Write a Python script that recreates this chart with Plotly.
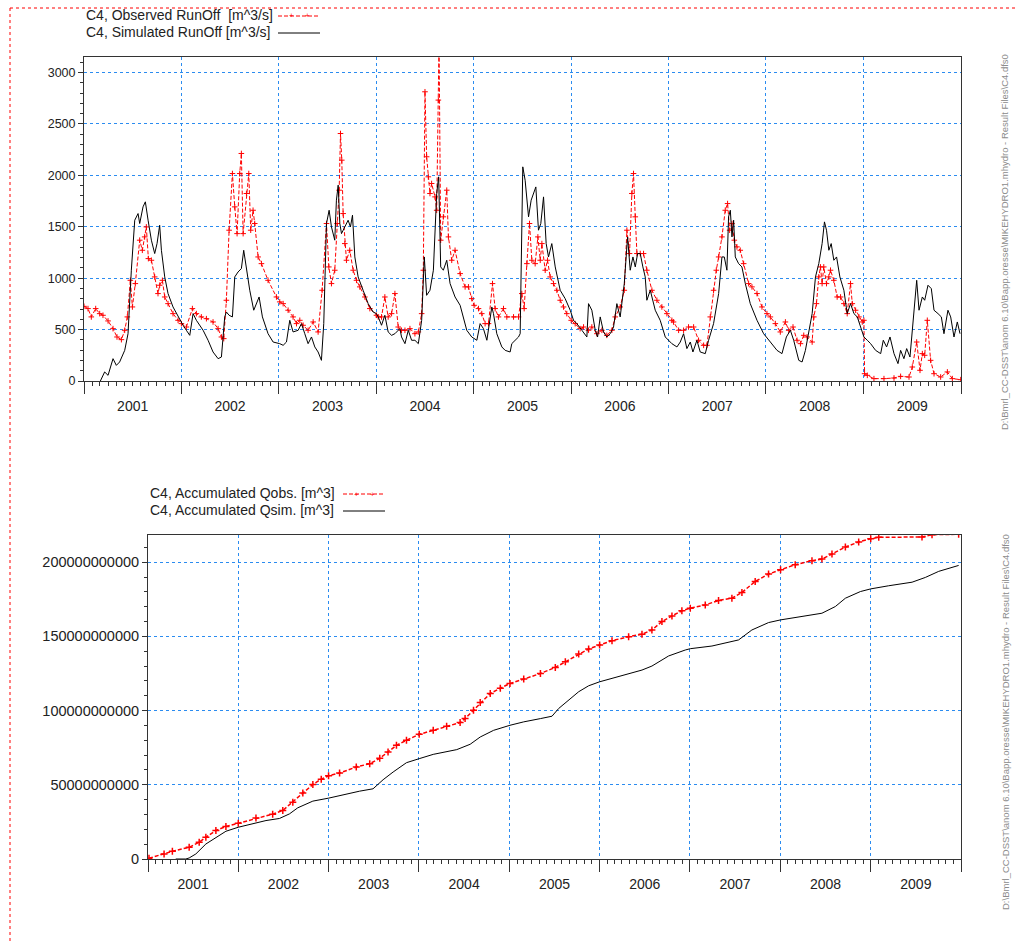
import datetime as dt
import plotly.graph_objects as go

# ---------------- data ----------------
# Observed runoff [m^3/s], decimal-year time stamps
obs_time = [
    2001.000, 2001.041, 2001.075, 2001.120, 2001.161, 2001.195, 2001.247, 2001.298, 2001.339, 2001.384,
    2001.418, 2001.445, 2001.476, 2001.497, 2001.527, 2001.572, 2001.599, 2001.623, 2001.640, 2001.661,
    2001.692, 2001.726, 2001.760, 2001.777, 2001.805, 2001.829, 2001.863, 2001.914, 2001.966,
    2002.000, 2002.051, 2002.113, 2002.154, 2002.205, 2002.257, 2002.325, 2002.377, 2002.411, 2002.435,
    2002.462, 2002.490, 2002.524, 2002.548, 2002.572, 2002.599, 2002.616, 2002.634, 2002.668, 2002.692,
    2002.712, 2002.736, 2002.753, 2002.788, 2002.822, 2002.890, 2002.976,
    2003.010, 2003.045, 2003.096, 2003.147, 2003.182, 2003.216, 2003.250, 2003.301, 2003.353, 2003.404,
    2003.445, 2003.490, 2003.514, 2003.541, 2003.575, 2003.599, 2003.620, 2003.634, 2003.647, 2003.661,
    2003.678, 2003.695, 2003.729, 2003.764, 2003.798, 2003.832, 2003.884, 2003.935,
    2004.003, 2004.021, 2004.055, 2004.089, 2004.123, 2004.158, 2004.192, 2004.226, 2004.260, 2004.295,
    2004.346, 2004.397, 2004.432, 2004.466, 2004.483, 2004.500, 2004.517, 2004.534, 2004.551, 2004.568,
    2004.603, 2004.620, 2004.637, 2004.644, 2004.661, 2004.688, 2004.723, 2004.740, 2004.774, 2004.808,
    2004.860, 2004.911, 2004.945, 2004.979,
    2005.003, 2005.048, 2005.082, 2005.116, 2005.151, 2005.192, 2005.219, 2005.253, 2005.305, 2005.339,
    2005.408, 2005.459, 2005.493, 2005.517, 2005.545, 2005.572, 2005.596, 2005.630, 2005.658, 2005.682,
    2005.699, 2005.733, 2005.757, 2005.784, 2005.818, 2005.853, 2005.887, 2005.921, 2005.955,
    2006.000, 2006.041, 2006.092, 2006.127, 2006.178, 2006.212, 2006.264, 2006.315, 2006.366, 2006.418,
    2006.452, 2006.503, 2006.545, 2006.572, 2006.599, 2006.623, 2006.640, 2006.658, 2006.675, 2006.709,
    2006.743, 2006.777, 2006.829, 2006.880, 2006.931, 2006.983,
    2007.034, 2007.051, 2007.103, 2007.154, 2007.205, 2007.257, 2007.308, 2007.360, 2007.394, 2007.428,
    2007.462, 2007.490, 2007.514, 2007.548, 2007.582, 2007.606, 2007.627, 2007.651, 2007.675, 2007.702,
    2007.736, 2007.771, 2007.822, 2007.856, 2007.908, 2007.959,
    2008.010, 2008.045, 2008.096, 2008.147, 2008.199, 2008.233, 2008.277, 2008.318, 2008.353, 2008.387,
    2008.421, 2008.473, 2008.490, 2008.517, 2008.541, 2008.558, 2008.575, 2008.592, 2008.620, 2008.644,
    2008.661, 2008.695, 2008.729, 2008.764, 2008.798, 2008.832, 2008.866, 2008.884, 2008.918, 2008.952,
    2008.986,
    2009.003, 2009.010, 2009.038, 2009.106, 2009.209, 2009.312, 2009.380, 2009.466, 2009.500, 2009.545,
    2009.579, 2009.603, 2009.627, 2009.654, 2009.688, 2009.723, 2009.791, 2009.860, 2009.911, 2009.997,
]
obs_flow = [
    726, 704, 623, 704, 655, 639, 584, 509, 428, 402,
    493, 623, 979, 720, 947, 1369, 1271, 1401, 1498, 1190,
    1174, 1012, 850, 931, 979, 817, 752, 655, 590,
    558, 525, 704, 655, 623, 606, 574, 509, 428, 412,
    785, 1466, 2017, 1693, 1433, 2017, 2212, 1433, 1823, 2017,
    1466, 1660, 1531, 1206, 1141, 979, 817,
    769, 752, 688, 623, 558, 590, 542, 493, 574, 477,
    882, 1531, 1109, 947, 1077, 1531, 1855, 2406, 2147, 1628,
    1336, 1174, 1271, 1077, 979, 915, 817, 704,
    639, 623, 623, 817, 623, 655, 850, 525, 493, 493,
    509, 460, 477, 655, 1077, 2812, 2180, 1985, 1823, 1920,
    1790, 1660, 2731, 3300, 1369, 1596, 1855, 1401, 1174, 1271,
    1044, 915, 915, 801,
    736, 704, 655, 558, 558, 947, 704, 623, 704, 623,
    623, 623, 850, 704, 1141, 1531, 1174, 1141, 1401, 1174,
    1336, 1077, 1174, 1012, 947, 882, 785, 720, 655,
    590, 558, 509, 525, 493, 525, 460, 493, 444, 493,
    623, 720, 882, 1466, 1239, 1823, 2017, 1596, 1239, 1239,
    1239, 1077, 882, 785, 720, 655,
    590, 574, 493, 493, 525, 525, 396, 347, 347, 623,
    882, 1077, 1206, 1401, 1660, 1725, 1466, 1531, 1369, 1304,
    1271, 1141, 947, 915, 850, 720,
    655, 623, 558, 477, 574, 493, 525, 396, 363, 444,
    428, 379, 623, 752, 1012, 1109, 947, 1109, 947, 1012,
    1077, 979, 817, 817, 752, 655, 947, 752, 688, 623,
    574,
    590, 71, 55, 23, 23, 29, 45, 39, 136, 379,
    104, 266, 250, 590, 201, 71, 39, 88, 23, 13,
]

# Simulated runoff [m^3/s]
sim_time = [
    2001.168, 2001.212, 2001.247, 2001.298, 2001.332, 2001.366, 2001.418, 2001.452, 2001.486, 2001.521,
    2001.555, 2001.572, 2001.606, 2001.630, 2001.658, 2001.692, 2001.726, 2001.750, 2001.777, 2001.795,
    2001.829, 2001.863, 2001.914, 2001.966,
    2002.017, 2002.051, 2002.086, 2002.120, 2002.154, 2002.223, 2002.274, 2002.325, 2002.377, 2002.411,
    2002.445, 2002.462, 2002.490, 2002.524, 2002.548, 2002.582, 2002.616, 2002.640, 2002.668, 2002.702,
    2002.743, 2002.771, 2002.798, 2002.832, 2002.890, 2002.942,
    2003.010, 2003.045, 2003.079, 2003.113, 2003.147, 2003.199, 2003.233, 2003.267, 2003.301, 2003.336,
    2003.370, 2003.404, 2003.438, 2003.462, 2003.490, 2003.517, 2003.541, 2003.575, 2003.592, 2003.610,
    2003.627, 2003.644, 2003.678, 2003.712, 2003.736, 2003.757, 2003.781, 2003.815, 2003.866, 2003.918,
    2003.969,
    2004.003, 2004.021, 2004.055, 2004.089, 2004.123, 2004.158, 2004.192, 2004.243, 2004.260, 2004.295,
    2004.329, 2004.363, 2004.397, 2004.432, 2004.466, 2004.493, 2004.517, 2004.551, 2004.586, 2004.620,
    2004.640, 2004.661, 2004.688, 2004.723, 2004.757, 2004.808, 2004.860, 2004.928, 2004.979,
    2005.031, 2005.065, 2005.099, 2005.134, 2005.185, 2005.202, 2005.236, 2005.288, 2005.322, 2005.373,
    2005.390, 2005.425, 2005.459, 2005.476, 2005.493, 2005.503, 2005.527, 2005.562, 2005.589, 2005.613,
    2005.637, 2005.664, 2005.688, 2005.716, 2005.743, 2005.767, 2005.801, 2005.836, 2005.887, 2005.938,
    2005.990,
    2006.024, 2006.058, 2006.110, 2006.161, 2006.178, 2006.212, 2006.247, 2006.271, 2006.298, 2006.332,
    2006.366, 2006.401, 2006.435, 2006.469, 2006.503, 2006.545, 2006.579, 2006.606, 2006.634, 2006.658,
    2006.682, 2006.709, 2006.736, 2006.760, 2006.777, 2006.812, 2006.863, 2006.914, 2006.966,
    2007.034, 2007.086, 2007.120, 2007.154, 2007.188, 2007.223, 2007.250, 2007.291, 2007.325, 2007.377,
    2007.411, 2007.462, 2007.514, 2007.548, 2007.572, 2007.599, 2007.616, 2007.634, 2007.651, 2007.668,
    2007.685, 2007.719, 2007.753, 2007.788, 2007.839, 2007.908, 2007.976,
    2008.045, 2008.113, 2008.164, 2008.209, 2008.250, 2008.284, 2008.336, 2008.370, 2008.404, 2008.438,
    2008.473, 2008.507, 2008.541, 2008.575, 2008.599, 2008.620, 2008.644, 2008.668, 2008.695, 2008.723,
    2008.757, 2008.798, 2008.832, 2008.866, 2008.901, 2008.935, 2008.976,
    2009.003, 2009.038, 2009.072, 2009.123, 2009.175, 2009.202, 2009.236, 2009.271, 2009.312, 2009.353,
    2009.380, 2009.414, 2009.442, 2009.476, 2009.517, 2009.545, 2009.569, 2009.603, 2009.627, 2009.661,
    2009.695, 2009.723, 2009.764, 2009.798, 2009.825, 2009.866, 2009.894, 2009.928, 2009.962, 2009.990,
]
sim_flow = [
    0, 88, 55, 217, 152, 185, 298, 460, 1077, 1563,
    1628, 1531, 1693, 1742, 1563, 1369, 1239, 1336, 1514, 1271,
    1012, 850, 720, 623,
    542, 493, 444, 655, 590, 493, 396, 282, 217, 233,
    623, 671, 639, 623, 1012, 1060, 1093, 1271, 1077, 882,
    688, 752, 817, 623, 460, 379,
    363, 347, 379, 590, 477, 493, 558, 460, 363, 428,
    331, 282, 201, 558, 1531, 1660, 1498, 1369, 1758, 1904,
    1531, 1433, 1498, 1563, 1498, 1612, 1206, 1012, 882, 752,
    671,
    655, 623, 542, 639, 477, 444, 460, 509, 428, 363,
    493, 396, 396, 363, 590, 1206, 833, 882, 1077, 1823,
    1985, 1109, 1077, 1174, 947, 817, 736, 493, 428,
    396, 558, 509, 396, 720, 655, 460, 331, 298, 282,
    363, 396, 428, 460, 1660, 2082, 1952, 1596, 1758, 1823,
    1887, 1466, 1531, 1790, 1336, 1206, 1336, 1109, 882, 801,
    688,
    590, 558, 493, 428, 752, 688, 493, 428, 623, 477,
    428, 460, 525, 752, 623, 947, 1401, 1077, 1206, 1109,
    1239, 1239, 1109, 1012, 785, 882, 688, 590, 428,
    363, 331, 379, 460, 315, 379, 282, 396, 282, 266,
    396, 558, 850, 1206, 1206, 1077, 1596, 1660, 1401, 1563,
    1206, 1141, 1109, 947, 752, 590, 460,
    379, 298, 266, 428, 493, 396, 201, 185, 298, 460,
    655, 1012, 1141, 1336, 1547, 1466, 1271, 1336, 1174, 1206,
    1012, 882, 655, 752, 655, 623, 493,
    428, 396, 363, 298, 266, 396, 331, 428, 266, 169,
    298, 217, 315, 233, 655, 979, 688, 817, 785, 931,
    898, 688, 655, 623, 460, 688, 623, 428, 574, 460,
]

# Accumulated volumes [10^9 m^3]
acc_obs_time = [
    2001.011, 2001.178, 2001.270, 2001.456, 2001.567, 2001.641, 2001.752, 2001.863,
    2002.000, 2002.196, 2002.381, 2002.493, 2002.604, 2002.715, 2002.826, 2002.919,
    2003.000, 2003.122, 2003.307, 2003.456, 2003.567, 2003.659, 2003.752, 2003.863,
    2004.004, 2004.159, 2004.307, 2004.456, 2004.511, 2004.604, 2004.678, 2004.789, 2004.900,
    2005.007, 2005.159, 2005.344, 2005.509, 2005.620, 2005.768, 2005.878,
    2006.000, 2006.137, 2006.321, 2006.469, 2006.579, 2006.690, 2006.801, 2006.911,
    2007.004, 2007.170, 2007.317, 2007.465, 2007.576, 2007.723, 2007.871,
    2008.004, 2008.166, 2008.351, 2008.461, 2008.572, 2008.720, 2008.867,
    2009.000, 2009.089, 2009.568, 2009.679, 2009.974,
]
acc_obs_vol = [
    0.5, 3.4, 5.2, 7.9, 11.3, 14.6, 19.2, 21.9,
    24.1, 27.7, 30.2, 32.7, 38.3, 44.4, 50.2, 53.8,
    56.1, 57.9, 62.0, 64.2, 67.8, 72.1, 76.6, 80.0,
    84.0, 86.7, 89.4, 91.9, 94.6, 100.3, 105.4, 111.5, 115.1,
    118.3, 121.2, 125.0, 129.1, 132.9, 138.1, 141.5,
    144.2, 147.1, 149.8, 151.4, 154.3, 160.0, 163.8, 167.2,
    169.0, 171.2, 174.2, 175.7, 179.6, 187.0, 192.0,
    194.9, 198.3, 201.0, 202.1, 205.5, 210.2, 213.6,
    215.8, 216.7, 217.0, 218.5, 218.8,
]
acc_sim_time = [
    2001.307, 2001.419, 2001.456, 2001.530, 2001.641, 2001.752, 2001.863,
    2002.000, 2002.196, 2002.307, 2002.456, 2002.567, 2002.659, 2002.826,
    2003.000, 2003.196, 2003.344, 2003.493, 2003.604, 2003.715, 2003.863,
    2004.004, 2004.159, 2004.419, 2004.567, 2004.678, 2004.826,
    2005.007, 2005.159, 2005.344, 2005.472, 2005.546, 2005.657, 2005.768, 2005.878,
    2006.000, 2006.137, 2006.321, 2006.469, 2006.579, 2006.764, 2006.948,
    2007.004, 2007.244, 2007.428, 2007.539, 2007.686, 2007.871,
    2008.004, 2008.203, 2008.461, 2008.609, 2008.720, 2008.886,
    2009.000, 2009.199, 2009.458, 2009.605, 2009.753, 2009.974,
]
acc_sim_vol = [
    0.0, 0.0, 0.7, 3.4, 10.1, 14.6, 18.7,
    21.4, 24.3, 25.9, 27.3, 30.4, 34.5, 39.0,
    41.0, 43.9, 45.7, 47.3, 53.4, 58.6, 64.9,
    67.6, 70.5, 73.7, 77.3, 82.2, 86.7,
    90.1, 92.4, 94.6, 96.2, 101.4, 107.0, 112.7, 116.7,
    119.4, 121.7, 125.0, 127.3, 130.0, 136.8, 140.8,
    141.7, 143.5, 145.8, 147.6, 154.3, 159.3,
    161.1, 162.9, 165.6, 170.1, 175.7, 180.2,
    182.0, 184.1, 186.5, 189.7, 193.8, 197.8,
]

flow_ticks = [0, 500, 1000, 1500, 2000, 2500, 3000]
vol_ticks = [0, 50e9, 100e9, 150e9, 200e9]

label_obs = "C4, Observed RunOff  [m^3/s]"
label_sim = "C4, Simulated RunOff [m^3/s]"
label_acc_obs = "C4, Accumulated Qobs. [m^3]"
label_acc_sim = "C4, Accumulated Qsim. [m^3]"
file_path = "D:\\Bmrl_CC-DSST\\anom 6.10\\Bapp.oresse\\MIKEHYDRO1.mhydro - Result Files\\C4.dfs0"


def to_dates(years):
    out = []
    for t in years:
        y = int(t)
        start = dt.datetime(y, 1, 1)
        span = dt.datetime(y + 1, 1, 1) - start
        out.append(start + (t - y) * span)
    return out


# ---------------- figure ----------------
W, H = 1016, 944
FONT = "Liberation Sans, Arial, sans-serif"
RED = "#ff0000"
GRID = "#2b8cf0"

fig = go.Figure()

fig.add_trace(go.Scatter(
    x=to_dates(obs_time), y=obs_flow, mode="lines+markers", name=label_obs,
    line=dict(color=RED, width=1, dash="4px,2px"),
    marker=dict(symbol="cross-thin", size=4, line=dict(color=RED, width=1)),
    xaxis="x", yaxis="y", showlegend=False))
fig.add_trace(go.Scatter(
    x=to_dates(sim_time), y=sim_flow, mode="lines", name=label_sim,
    line=dict(color="black", width=1),
    xaxis="x", yaxis="y", showlegend=False))

fig.add_trace(go.Scatter(
    x=to_dates(acc_obs_time), y=[v * 1e9 for v in acc_obs_vol], mode="lines+markers",
    name=label_acc_obs,
    line=dict(color=RED, width=1.5, dash="4px,2px"),
    marker=dict(symbol="cross-thin", size=5, line=dict(color=RED, width=1.5)),
    xaxis="x2", yaxis="y2", showlegend=False))
fig.add_trace(go.Scatter(
    x=to_dates(acc_sim_time), y=[v * 1e9 for v in acc_sim_vol], mode="lines",
    name=label_acc_sim,
    line=dict(color="black", width=1),
    xaxis="x2", yaxis="y2", showlegend=False))


def px_x(p):
    return p / W


def px_y(p):
    return 1 - p / H


xcommon = dict(
    type="date", range=["2001-01-01", "2010-01-01"],
    dtick="M12", tick0="2001-01-01", tickformat="%Y", ticklabelmode="period",
    ticks="outside", ticklen=12, tickwidth=1, tickcolor="#333",
    minor=dict(dtick="M1", tick0="2001-01-01", ticks="outside", ticklen=4,
               tickwidth=1, tickcolor="#333", showgrid=False),
    showgrid=True, gridcolor=GRID, griddash="3px,3px", gridwidth=1,
    showline=True, linecolor="#333", linewidth=1, mirror=True,
    zeroline=False, automargin=False, fixedrange=True,
    tickfont=dict(family=FONT, size=14, color="#222"),
)
ycommon = dict(
    ticks="outside", ticklen=5, tickwidth=1, tickcolor="#333",
    showgrid=True, gridcolor=GRID, griddash="3px,3px", gridwidth=1,
    showline=True, linecolor="#333", linewidth=1, mirror=True,
    zeroline=False, automargin=False, fixedrange=True,
)

fig.update_layout(
    width=W, height=H,
    margin=dict(l=0, r=0, t=0, b=0),
    paper_bgcolor="white", plot_bgcolor="white",
    font=dict(family=FONT, size=12, color="#222"),
    xaxis=dict(domain=[px_x(84), px_x(961)], anchor="y", **xcommon),
    yaxis=dict(domain=[px_y(381), px_y(57)], anchor="x", range=[0, 3150],
               tickvals=flow_ticks, ticktext=[str(v) for v in flow_ticks],
               minor=dict(dtick=100, ticks="outside", ticklen=3, tickcolor="#333", showgrid=False),
               tickfont=dict(family=FONT, size=12.5, color="#222"),
               **ycommon),
    xaxis2=dict(domain=[px_x(148), px_x(961)], anchor="y2", **xcommon),
    yaxis2=dict(domain=[px_y(859), px_y(535)], anchor="x2", range=[0, 218.3e9],
                tickvals=vol_ticks, ticktext=["%d" % v for v in vol_ticks],
                minor=dict(dtick=10e9, ticks="outside", ticklen=3, tickcolor="#333", showgrid=False),
                tickfont=dict(family=FONT, size=14.5, color="#222"),
                **ycommon),
)

shapes = []
annotations = []

# legends (text followed by line sample)
legend_rows = [
    (label_obs, 84, 15, 278, 320, True),
    (label_sim, 84, 32, 278, 320, False),
    (label_acc_obs, 148, 493, 343, 385, True),
    (label_acc_sim, 148, 510, 343, 385, False),
]
for text, tx, ty, sx0, sx1, is_obs in legend_rows:
    annotations.append(dict(
        x=px_x(tx), y=px_y(ty), xref="paper", yref="paper", text=text,
        showarrow=False, xanchor="left", yanchor="middle",
        font=dict(family=FONT, size=14, color="#222")))
    shapes.append(dict(
        type="line", xref="paper", yref="paper",
        x0=px_x(sx0), x1=px_x(sx1), y0=px_y(ty + 1), y1=px_y(ty + 1),
        line=dict(color=RED if is_obs else "black", width=1,
                  dash="4px,2px" if is_obs else "solid")))
    if is_obs:
        for mx in (sx0 + 13, sx0 + 29):
            annotations.append(dict(
                x=px_x(mx), y=px_y(ty + 1), xref="paper", yref="paper", text="+",
                showarrow=False, xanchor="center", yanchor="middle",
                font=dict(family=FONT, size=8, color=RED)))

# red dotted frame of the page
shapes.append(dict(type="line", xref="paper", yref="paper",
                   x0=px_x(10), x1=1, y0=px_y(8), y1=px_y(8),
                   line=dict(color=RED, width=1, dash="dot")))
shapes.append(dict(type="line", xref="paper", yref="paper",
                   x0=px_x(10), x1=px_x(10), y0=px_y(8), y1=0,
                   line=dict(color=RED, width=1, dash="dot")))

# file path text at the right edge
for cy in (242, 722):
    annotations.append(dict(
        x=px_x(1005), y=px_y(cy), xref="paper", yref="paper", text=file_path,
        showarrow=False, textangle=-90, xanchor="center", yanchor="middle",
        font=dict(family=FONT, size=9.5, color="#8c8c8c")))

fig.update_layout(shapes=shapes, annotations=annotations)

fig.write_html(
    "out.html",
    config={"displayModeBar": False},
    post_script="document.body.style.margin='0';document.body.style.overflow='hidden';",
)
